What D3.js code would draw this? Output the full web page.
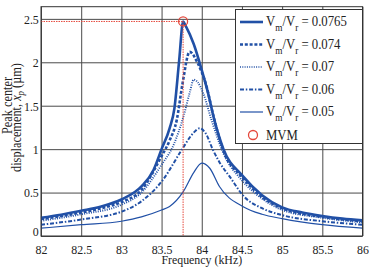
<!DOCTYPE html>
<html>
<head>
<meta charset="utf-8">
<script src="https://cdn.jsdelivr.net/npm/d3@7"></script>
<style>
body { margin: 0; background: #fff; }
text { font-family: "Liberation Serif", "Times New Roman", serif; fill: #222; }
</style>
</head>
<body>
<script>
// tick values
var freqTicks = [82, 82.5, 83, 83.5, 84, 84.5, 85, 85.5, 86];
var dispTicks = [0, 0.5, 1, 1.5, 2, 2.5];

// Vm/Vr = 0.0765
var f0765 = [82, 82.25, 82.5, 82.75, 83, 83.25, 83.4, 83.5, 83.6, 83.66, 83.72, 83.768, 83.8, 83.9, 84.0, 84.08, 84.15, 84.27, 84.5, 84.75, 85, 85.25, 85.5, 85.75, 86];
var v0765 = [0.21, 0.245, 0.29, 0.34, 0.42, 0.57, 0.76, 1.0, 1.24, 1.47, 2.03, 2.47, 2.42, 2.21, 1.91, 1.64, 1.36, 1.0, 0.7, 0.47, 0.33, 0.27, 0.23, 0.2, 0.18];
// Vm/Vr = 0.074
var f074 = [82, 82.25, 82.5, 82.75, 83, 83.25, 83.5, 83.6, 83.69, 83.76, 83.85, 83.95, 84.06, 84.14, 84.27, 84.5, 84.75, 85, 85.5, 86];
var v074 = [0.195, 0.23, 0.27, 0.32, 0.39, 0.53, 0.92, 1.1, 1.34, 1.75, 2.12, 1.99, 1.72, 1.4, 0.98, 0.68, 0.45, 0.32, 0.22, 0.17];
// Vm/Vr = 0.07
var f07 = [82, 82.5, 83, 83.25, 83.5, 83.65, 83.78, 83.85, 83.9, 83.95, 84.02, 84.12, 84.27, 84.5, 84.75, 85, 85.5, 86];
var v07 = [0.175, 0.25, 0.36, 0.5, 0.82, 1.05, 1.4, 1.65, 1.8, 1.77, 1.64, 1.34, 0.95, 0.64, 0.43, 0.3, 0.21, 0.155];
// Vm/Vr = 0.06
var f06 = [82, 82.5, 83, 83.25, 83.52, 83.75, 83.9, 83.975, 84.05, 84.14, 84.22, 84.35, 84.52, 84.75, 85, 85.5, 86];
var v06 = [0.13, 0.19, 0.28, 0.4, 0.65, 0.99, 1.19, 1.24, 1.18, 0.99, 0.85, 0.68, 0.46, 0.32, 0.24, 0.17, 0.13];
// Vm/Vr = 0.05
var f05 = [82, 82.5, 83, 83.25, 83.5, 83.6, 83.77, 83.9, 84.0, 84.1, 84.22, 84.51, 84.75, 85, 85.5, 86];
var v05 = [0.09, 0.13, 0.17, 0.22, 0.3, 0.34, 0.51, 0.73, 0.84, 0.78, 0.57, 0.34, 0.25, 0.2, 0.13, 0.09];

var ratioLabels = ["0.0765", "0.074", "0.07", "0.06", "0.05"];

// maximum vibration magnitude point
var mvmFreq = 83.768;
var mvmDisp = 2.47;

var blue = "#2150a6";
var red = "#e5483c";
var sx = 0.88; // serif text looks narrow in the picture

var series = [
  {f: f0765, v: v0765, w: 2.6, dash: null},
  {f: f074, v: v074, w: 2.6, dash: "3,1.8"},
  {f: f07, v: v07, w: 1.9, dash: "1,1.3"},
  {f: f06, v: v06, w: 2, dash: "4,1.8,1.5,1.8"},
  {f: f05, v: v05, w: 1.2, dash: null}
];

var plotL = 41, plotR = 362.5, plotT = 6.7, plotB = 236;

var x = d3.scaleLinear().domain([82, 86]).range([plotL, plotR]);
var y = d3.scaleLinear().domain([0, 2.64]).range([plotB, plotT]);

var svg = d3.select("body").append("svg")
    .attr("width", 369)
    .attr("height", 267);

// axes + grid
var xAxis = d3.axisBottom(x).tickValues(freqTicks).tickSizeInner(-(plotB - plotT)).tickSizeOuter(0).tickPadding(8).tickFormat(function(d){ return String(d); });
var yAxis = d3.axisLeft(y).tickValues(dispTicks).tickSizeInner(-(plotR - plotL)).tickSizeOuter(0).tickPadding(2.5).tickFormat(function(d){ return String(d); });

var gx = svg.append("g").attr("transform", "translate(0," + plotB + ")").call(xAxis);
var gy = svg.append("g").attr("transform", "translate(" + plotL + ",0)").call(yAxis);

[gx, gy].forEach(function(g){
  g.select(".domain").remove();
  g.selectAll(".tick line").attr("stroke", "#4a4a4a").attr("stroke-width", 1);
  g.selectAll(".tick text").attr("font-size", 13.5).attr("fill", "#222")
    .attr("font-family", "Liberation Serif, serif");
});
gx.selectAll(".tick text").attr("transform", "scale(" + sx + ",1)");
gy.selectAll(".tick text").attr("transform", "scale(" + sx + ",1)");
gy.selectAll(".tick text").filter(function(d){ return d === 0; }).attr("y", -4.5);

// curves
var line = d3.line()
    .x(function(d){ return x(d[0]); })
    .y(function(d){ return y(d[1]); })
    .curve(d3.curveMonotoneX);

series.slice().reverse().forEach(function(s){
  var pts = s.f.map(function(f, i){ return [f, s.v[i]]; });
  svg.append("path")
    .attr("d", line(pts))
    .attr("fill", "none")
    .attr("stroke", blue)
    .attr("stroke-width", s.w)
    .attr("stroke-dasharray", s.dash);
});

// MVM guide lines
svg.append("line")
  .attr("x1", x(82)).attr("x2", x(mvmFreq))
  .attr("y1", y(mvmDisp)).attr("y2", y(mvmDisp))
  .attr("stroke", red).attr("stroke-width", 1).attr("stroke-dasharray", "1.5,1");
svg.append("line")
  .attr("x1", x(mvmFreq)).attr("x2", x(mvmFreq))
  .attr("y1", y(mvmDisp)).attr("y2", y(0))
  .attr("stroke", red).attr("stroke-width", 1).attr("stroke-dasharray", "1.5,1");
svg.append("circle")
  .attr("cx", x(mvmFreq)).attr("cy", y(mvmDisp)).attr("r", 4.5)
  .attr("fill", "none").attr("stroke", red).attr("stroke-width", 1.3);

// frame
svg.append("rect")
  .attr("x", plotL).attr("y", plotT)
  .attr("width", plotR - plotL).attr("height", plotB - plotT)
  .attr("fill", "none").attr("stroke", "#333").attr("stroke-width", 1);

// axis titles
svg.append("text")
  .attr("transform", "translate(" + ((plotL + plotR) / 2) + ",264) scale(" + sx + ",1)")
  .attr("text-anchor", "middle").attr("font-size", 13.5)
  .text("Frequency (kHz)");

svg.append("text")
  .attr("transform", "translate(11.5,105.5) rotate(-90) scale(" + sx + ",1)")
  .attr("text-anchor", "middle").attr("font-size", 14)
  .text("Peak center");

var yl2 = svg.append("text")
  .attr("transform", "translate(21,117.5) rotate(-90) scale(" + sx + ",1)")
  .attr("text-anchor", "middle").attr("font-size", 14);
yl2.append("tspan").text("displacement, ");
yl2.append("tspan").attr("font-style", "italic").text("x");
yl2.append("tspan").attr("font-style", "italic").attr("font-size", 10).attr("dy", 3).text("p");
yl2.append("tspan").attr("dy", -3).text(" (µm)");

// legend
var lg = svg.append("g");
lg.append("rect")
  .attr("x", 235.5).attr("y", 9.5).attr("width", 127).attr("height", 134)
  .attr("fill", "#fff").attr("stroke", "#333").attr("stroke-width", 1);

var rowY = [22, 44.5, 67, 89.5, 112, 135];
series.forEach(function(s, i){
  lg.append("line")
    .attr("x1", 240).attr("x2", 263)
    .attr("y1", rowY[i]).attr("y2", rowY[i])
    .attr("stroke", blue).attr("stroke-width", i === 2 ? 1.3 : s.w)
    .attr("stroke-dasharray", s.dash);
  var t = lg.append("text")
    .attr("transform", "translate(266," + (rowY[i] + 4) + ") scale(" + sx + ",1)")
    .attr("font-size", 14.5);
  t.append("tspan").text("V");
  t.append("tspan").attr("font-size", 10.5).attr("dy", 5).text("m");
  t.append("tspan").attr("dy", -5).text("/V");
  t.append("tspan").attr("font-size", 10.5).attr("dy", 5).text("r");
  t.append("tspan").attr("dy", -5).text(" = " + ratioLabels[i]);
});
lg.append("circle")
  .attr("cx", 253).attr("cy", rowY[5]).attr("r", 4.5)
  .attr("fill", "none").attr("stroke", red).attr("stroke-width", 1.3);
lg.append("text")
  .attr("transform", "translate(266," + (rowY[5] + 5) + ") scale(" + sx + ",1)")
  .attr("font-size", 14.5)
  .text("MVM");
</script>
</body>
</html>
